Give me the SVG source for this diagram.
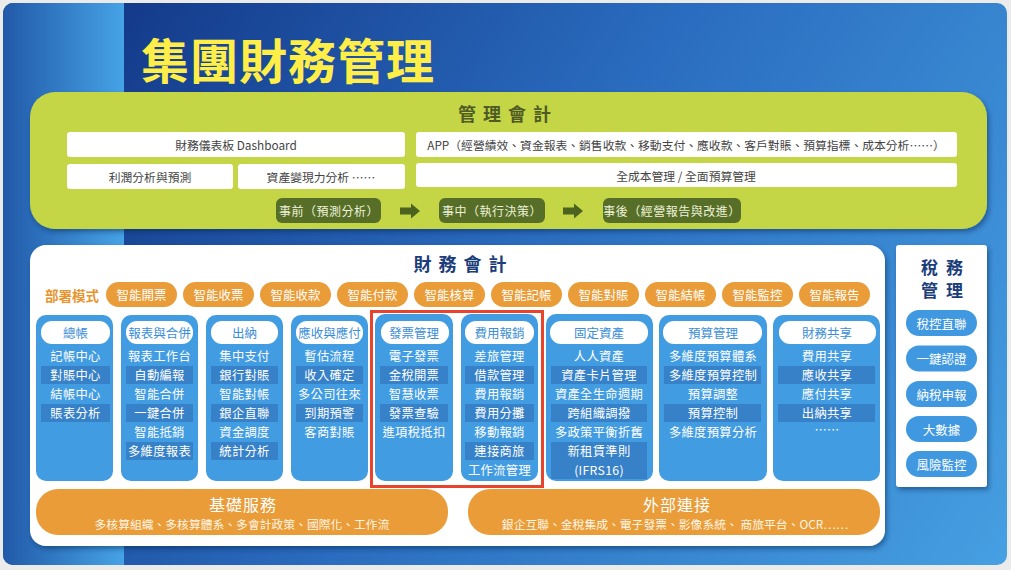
<svg xmlns="http://www.w3.org/2000/svg" width="1011" height="570" viewBox="0 0 1011 570">
<defs>
<linearGradient id="gMain" x1="124" y1="0" x2="1008" y2="570" gradientUnits="userSpaceOnUse">
<stop offset="0" stop-color="#143a8a"/>
<stop offset="0.45" stop-color="#2a6cbf"/>
<stop offset="1" stop-color="#46a0e2"/>
</linearGradient>
<linearGradient id="gLeft" x1="3" y1="0" x2="124" y2="0" gradientUnits="userSpaceOnUse">
<stop offset="0" stop-color="#2159a8"/>
<stop offset="1" stop-color="#46a3e6"/>
</linearGradient>
<filter id="sh" x="-10%" y="-10%" width="120%" height="125%">
<feDropShadow dx="2" dy="3" stdDeviation="2.5" flood-color="#0a2450" flood-opacity="0.45"/>
</filter>
<clipPath id="frame"><rect x="3" y="3" width="1004" height="562" rx="10"/></clipPath>
</defs>
<style>
text{font-family:"Noto Sans CJK TC","Noto Sans",sans-serif;dominant-baseline:central;text-anchor:middle}
.wbox{fill:#ffffff}
.wt{font-size:11.8px;fill:#444444}
.gbtn{fill:#566e27}
.gbt{font-size:12px;fill:#eef2d8;letter-spacing:0.5px}
.arr{fill:#4c6320}
.opill{fill:#e99c37}
.ot{font-size:12.5px;fill:#ffffff}
.col{fill:#429ce2}
.hdr{fill:#ffffff}
.ht{font-size:12.5px;fill:#3a8dd6}
.dk{fill:#3781c8}
.it{font-size:12.3px;fill:#ffffff;letter-spacing:0.3px}
.tpill{fill:#3f98e0}
.tt{font-size:12.5px;fill:#ffffff}
.bt{font-size:16px;fill:#ffffff;letter-spacing:1px}
.bs{font-size:11.8px;fill:#fff6e6}
.th{font-size:17px;font-weight:700;fill:#1b3d7a;letter-spacing:8px}
</style>
<rect x="0" y="0" width="1011" height="570" fill="#ebebeb"/>
<g clip-path="url(#frame)">
<rect x="3" y="3" width="1004" height="562" fill="url(#gMain)"/>
<rect x="3" y="3" width="121" height="562" fill="url(#gLeft)"/>
</g>
<text x="141" y="58" style="font-size:48px;font-weight:700;fill:#ffee48;text-anchor:start;letter-spacing:1px">集團財務管理</text>

<g id="management-accounting">
<rect x="30" y="92" width="957" height="137" rx="25" fill="#c4d545" filter="url(#sh)"/>
<text x="508" y="113" style="font-size:18px;font-weight:700;fill:#4f5b26;letter-spacing:7px">管理會計</text>
<g id="dashboard"><rect class="wbox" x="67" y="132" width="338" height="25" rx="3"/><text class="wt" x="236" y="144.5">財務儀表板 Dashboard</text></g>
<g id="app"><rect class="wbox" x="416" y="132" width="541" height="25" rx="3"/><text class="wt" x="686" y="144.5">APP（經營績效、資金報表、銷售收款、移動支付、應收款、客戶對賬、預算指標、成本分析……）</text></g>
<g id="profit"><rect class="wbox" x="67" y="164" width="166" height="25" rx="3"/><text class="wt" x="150" y="176.5">利潤分析與預測</text></g>
<g id="asset-liquidity"><rect class="wbox" x="238" y="164" width="167" height="25" rx="3"/><text class="wt" x="321" y="176.5">資產變現力分析 ……</text></g>
<g id="full-cost"><rect class="wbox" x="416" y="163" width="541" height="24" rx="3"/><text class="wt" x="686" y="175">全成本管理 / 全面預算管理</text></g>
<g id="before"><rect class="gbtn" x="276" y="198" width="105" height="25" rx="6"/><text class="gbt" x="329" y="210.5">事前（預測分析）</text></g>
<g id="during"><rect class="gbtn" x="439" y="198" width="106" height="25" rx="6"/><text class="gbt" x="492" y="210.5">事中（執行決策）</text></g>
<g id="after"><rect class="gbtn" x="603" y="198" width="138" height="25" rx="6"/><text class="gbt" x="672" y="210.5">事後（經營報告與改進）</text></g>
</g>

<g id="connectors">
<path class="arr" d="M400,207.5 H411 V203.5 L420,211 L411,218.5 V214.5 H400 Z"/>
<path class="arr" d="M563,207.5 H574 V203.5 L583,211 L574,218.5 V214.5 H563 Z"/>
</g>

<g id="financial-accounting">
<rect x="30" y="245" width="855" height="301" rx="16" fill="#ffffff" filter="url(#sh)"/>
<text x="463.5" y="263" style="font-size:18px;font-weight:700;fill:#1b3d7a;letter-spacing:7px">財務會計</text>
<text x="45" y="295" style="font-size:13.5px;font-weight:700;fill:#e8942c;text-anchor:start">部署模式</text>
</g>

<g id="deploy-pills">
<g id="p1"><rect class="opill" x="106" y="282" width="71" height="25" rx="12.5"/><text class="ot" x="141.5" y="294.5">智能開票</text></g>
<g id="p2"><rect class="opill" x="183" y="282" width="71" height="25" rx="12.5"/><text class="ot" x="218.5" y="294.5">智能收票</text></g>
<g id="p3"><rect class="opill" x="260" y="282" width="71" height="25" rx="12.5"/><text class="ot" x="295.5" y="294.5">智能收款</text></g>
<g id="p4"><rect class="opill" x="337" y="282" width="71" height="25" rx="12.5"/><text class="ot" x="372.5" y="294.5">智能付款</text></g>
<g id="p5"><rect class="opill" x="414" y="282" width="71" height="25" rx="12.5"/><text class="ot" x="449.5" y="294.5">智能核算</text></g>
<g id="p6"><rect class="opill" x="491" y="282" width="71" height="25" rx="12.5"/><text class="ot" x="526.5" y="294.5">智能記帳</text></g>
<g id="p7"><rect class="opill" x="568" y="282" width="71" height="25" rx="12.5"/><text class="ot" x="603.5" y="294.5">智能對賬</text></g>
<g id="p8"><rect class="opill" x="645" y="282" width="71" height="25" rx="12.5"/><text class="ot" x="680.5" y="294.5">智能結帳</text></g>
<g id="p9"><rect class="opill" x="722" y="282" width="71" height="25" rx="12.5"/><text class="ot" x="757.5" y="294.5">智能監控</text></g>
<g id="p10"><rect class="opill" x="799" y="282" width="71" height="25" rx="12.5"/><text class="ot" x="834.5" y="294.5">智能報告</text></g>
</g>

<g id="col-gl">
<rect class="col" x="36" y="315" width="77" height="166" rx="10"/>
<rect class="hdr" x="41" y="321" width="69" height="23" rx="11"/><text class="ht" x="75.5" y="332.5">總帳</text>
<rect class="dk" x="41" y="366" width="69" height="18"/><rect class="dk" x="41" y="404" width="69" height="18"/>
<text class="it" x="75.5" y="356">記帳中心</text><text class="it" x="75.5" y="375">對賬中心</text><text class="it" x="75.5" y="394">結帳中心</text><text class="it" x="75.5" y="413">賬表分析</text>
</g>
<g id="col-report">
<rect class="col" x="121" y="315" width="77" height="166" rx="10"/>
<rect class="hdr" x="126" y="321" width="67" height="23" rx="11"/><text class="ht" x="159.5" y="332.5">報表與合併</text>
<rect class="dk" x="126" y="366" width="67" height="18"/><rect class="dk" x="126" y="404" width="67" height="18"/><rect class="dk" x="126" y="442" width="67" height="18"/>
<text class="it" x="159.5" y="356">報表工作台</text><text class="it" x="159.5" y="375">自動編報</text><text class="it" x="159.5" y="394">智能合併</text><text class="it" x="159.5" y="413">一鍵合併</text><text class="it" x="159.5" y="432">智能抵銷</text><text class="it" x="159.5" y="451">多維度報表</text>
</g>
<g id="col-cashier">
<rect class="col" x="206" y="315" width="77" height="166" rx="10"/>
<rect class="hdr" x="211" y="321" width="67" height="23" rx="11"/><text class="ht" x="244.5" y="332.5">出納</text>
<rect class="dk" x="211" y="366" width="67" height="18"/><rect class="dk" x="211" y="404" width="67" height="18"/><rect class="dk" x="211" y="442" width="67" height="18"/>
<text class="it" x="244.5" y="356">集中支付</text><text class="it" x="244.5" y="375">銀行對賬</text><text class="it" x="244.5" y="394">智能對帳</text><text class="it" x="244.5" y="413">銀企直聯</text><text class="it" x="244.5" y="432">資金調度</text><text class="it" x="244.5" y="451">統計分析</text>
</g>
<g id="col-arap">
<rect class="col" x="291" y="315" width="77" height="166" rx="10"/>
<rect class="hdr" x="296" y="321" width="67" height="23" rx="11"/><text class="ht" x="329.5" y="332.5">應收與應付</text>
<rect class="dk" x="296" y="366" width="67" height="18"/><rect class="dk" x="296" y="404" width="67" height="18"/>
<text class="it" x="329.5" y="356">暫估流程</text><text class="it" x="329.5" y="375">收入確定</text><text class="it" x="329.5" y="394">多公司往來</text><text class="it" x="329.5" y="413">到期預警</text><text class="it" x="329.5" y="432">客商對賬</text>
</g>
<g id="col-invoice">
<rect class="col" x="375" y="314" width="78" height="167" rx="10"/>
<rect class="hdr" x="381" y="321" width="68" height="23" rx="11"/><text class="ht" x="414" y="332.5">發票管理</text>
<rect class="dk" x="380" y="366" width="68" height="18"/><rect class="dk" x="380" y="404" width="68" height="18"/>
<text class="it" x="414" y="356">電子發票</text><text class="it" x="414" y="375">金稅開票</text><text class="it" x="414" y="394">智慧收票</text><text class="it" x="414" y="413">發票查驗</text><text class="it" x="414" y="432">進項稅抵扣</text>
</g>
<g id="col-expense">
<rect class="col" x="461" y="314" width="77" height="167" rx="10"/>
<rect class="hdr" x="465" y="321" width="69" height="23" rx="11"/><text class="ht" x="499.5" y="332.5">費用報銷</text>
<rect class="dk" x="465" y="366" width="69" height="18"/><rect class="dk" x="465" y="404" width="69" height="18"/><rect class="dk" x="465" y="442" width="69" height="18"/>
<text class="it" x="499.5" y="356">差旅管理</text><text class="it" x="499.5" y="375">借款管理</text><text class="it" x="499.5" y="394">費用報銷</text><text class="it" x="499.5" y="413">費用分攤</text><text class="it" x="499.5" y="432">移動報銷</text><text class="it" x="499.5" y="451">連接商旅</text><text class="it" x="499.5" y="470">工作流管理</text>
</g>
<g id="col-fixed-asset">
<rect class="col" x="546" y="314" width="107" height="167" rx="10"/>
<rect class="hdr" x="550" y="321" width="98" height="23" rx="11"/><text class="ht" x="599" y="332.5">固定資產</text>
<rect class="dk" x="551" y="366" width="96" height="18"/><rect class="dk" x="551" y="404" width="96" height="18"/><rect class="dk" x="551" y="442" width="96" height="37"/>
<text class="it" x="599" y="356">人人資產</text><text class="it" x="599" y="375">資產卡片管理</text><text class="it" x="599" y="394">資產全生命週期</text><text class="it" x="599" y="413">跨組織調撥</text><text class="it" x="599" y="432">多政策平衡折舊</text><text class="it" x="599" y="451">新租賃準則</text><text class="it" x="599" y="470">(IFRS16)</text>
</g>
<g id="col-budget">
<rect class="col" x="659" y="315" width="108" height="166" rx="10"/>
<rect class="hdr" x="663" y="321" width="99" height="23" rx="11"/><text class="ht" x="713" y="332.5">預算管理</text>
<rect class="dk" x="664" y="366" width="97" height="18"/><rect class="dk" x="664" y="404" width="97" height="18"/>
<text class="it" x="713" y="356">多維度預算體系</text><text class="it" x="713" y="375">多維度預算控制</text><text class="it" x="713" y="394">預算調整</text><text class="it" x="713" y="413">預算控制</text><text class="it" x="713" y="432">多維度預算分析</text>
</g>
<g id="col-shared">
<rect class="col" x="773" y="315" width="107" height="166" rx="10"/>
<rect class="hdr" x="779" y="321" width="97" height="23" rx="11"/><text class="ht" x="827" y="332.5">財務共享</text>
<rect class="dk" x="778" y="366" width="97" height="18"/><rect class="dk" x="778" y="404" width="97" height="18"/>
<text class="it" x="827" y="356">費用共享</text><text class="it" x="827" y="375">應收共享</text><text class="it" x="827" y="394">應付共享</text><text class="it" x="827" y="413">出納共享</text><text class="it" x="827" y="430">……</text>
</g>

<rect id="highlight" x="371.5" y="311.5" width="171" height="175" fill="none" stroke="#e8432c" stroke-width="3"/>

<g id="base-services">
<rect class="opill" x="36" y="489" width="412" height="46" rx="22"/>
<text class="bt" x="243" y="504">基礎服務</text>
<text class="bs" x="242" y="523">多核算組織、多核算體系、多會計政策、國際化、工作流</text>
</g>
<g id="external-links">
<rect class="opill" x="468" y="489" width="412" height="46" rx="22"/>
<text class="bt" x="677" y="504">外部連接</text>
<text class="bs" x="675" y="523">銀企互聯、金稅集成、電子發票、影像系統、 商旅平台、OCR……</text>
</g>

<g id="tax-management">
<rect x="896" y="245" width="91" height="242" rx="3" fill="#ffffff" filter="url(#sh)"/>
<text class="th" x="946" y="266">稅務</text>
<text class="th" x="946" y="289">管理</text>
<g id="t1"><rect class="tpill" x="906" y="310" width="71" height="26" rx="13"/><text class="tt" x="941.5" y="323">稅控直聯</text></g>
<g id="t2"><rect class="tpill" x="906" y="345.5" width="71" height="26" rx="13"/><text class="tt" x="941.5" y="358.5">一鍵認證</text></g>
<g id="t3"><rect class="tpill" x="906" y="381" width="71" height="26" rx="13"/><text class="tt" x="941.5" y="394">納稅申報</text></g>
<g id="t4"><rect class="tpill" x="906" y="416" width="71" height="26" rx="13"/><text class="tt" x="941.5" y="429">大數據</text></g>
<g id="t5"><rect class="tpill" x="906" y="451" width="71" height="26" rx="13"/><text class="tt" x="941.5" y="464">風險監控</text></g>
</g>
</svg>
